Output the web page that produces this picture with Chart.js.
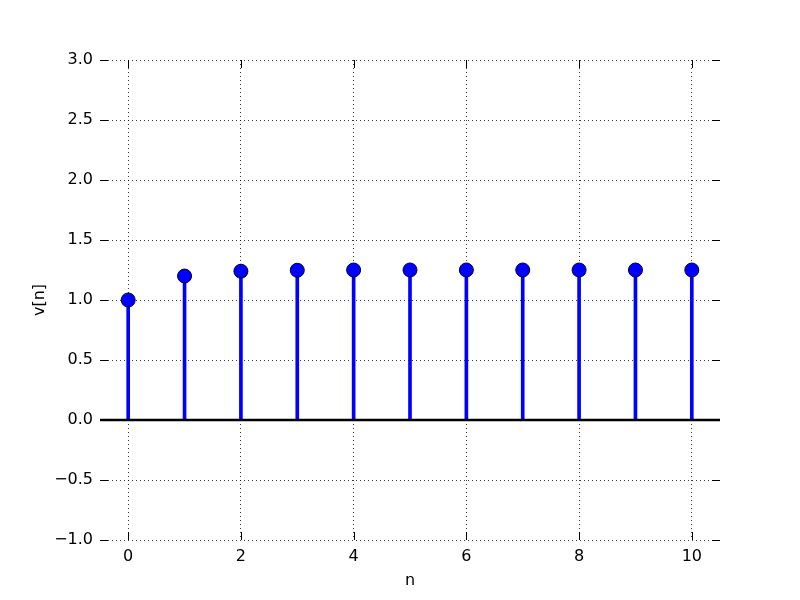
<!DOCTYPE html>
<html>
<head>
<meta charset="utf-8">
<script src="https://cdn.jsdelivr.net/npm/chart.js@4"></script>
<style>
  body { margin: 0; background: #fff; }
  #wrap { width: 800px; height: 600px; }
</style>
</head>
<body>
<div id="wrap"><canvas id="myChart" width="800" height="600"></canvas></div>
<script>
const n = [0, 1, 2, 3, 4, 5, 6, 7, 8, 9, 10]
const v = [1.0, 1.2, 1.24, 1.248, 1.25, 1.25, 1.25, 1.25, 1.25, 1.25, 1.25]
const xTicks = [0, 2, 4, 6, 8, 10]
const yTicks = [-1.0, -0.5, 0.0, 0.5, 1.0, 1.5, 2.0, 2.5, 3.0]

const points = n.map((x, i) => ({ x: x, y: v[i] }))
const ctx = document.querySelector("#myChart").getContext("2d")
const font = { family: "DejaVu Sans", size: 16 }

// matplotlib style inward ticks
const innerTicks = {
  id: "innerTicks",
  afterDraw(chart) {
    const c = chart.ctx
    const a = chart.chartArea
    const xs = chart.scales.x, ys = chart.scales.y
    c.save()
    c.strokeStyle = "#000"
    c.lineWidth = 1
    c.beginPath()
    xTicks.forEach(t => {
      const px = Math.round(xs.getPixelForValue(t)) + 0.5
      c.moveTo(px, a.bottom); c.lineTo(px, a.bottom - 8)
      c.moveTo(px, a.top); c.lineTo(px, a.top + 8)
    })
    yTicks.forEach(t => {
      const py = Math.round(ys.getPixelForValue(t)) + 0.5
      c.moveTo(a.left, py); c.lineTo(a.left + 8, py)
      c.moveTo(a.right, py); c.lineTo(a.right - 8, py)
    })
    c.stroke()
    c.restore()
  }
}

new Chart(ctx, {
  type: "scatter",
  data: {
    datasets: [
      {
        type: "scatter",
        data: points,
        pointRadius: 7,
        pointHoverRadius: 7,
        backgroundColor: "#0000ff",
        borderColor: "#000033",
        borderWidth: 1,
        order: 0
      },
      {
        type: "line",
        data: [{ x: -0.5, y: 0 }, { x: 10.5, y: 0 }],
        borderColor: "#000",
        borderWidth: 2.5,
        pointRadius: 0,
        order: 1
      },
      {
        type: "bar",
        data: points,
        backgroundColor: "#0000ff",
        barThickness: 3,
        order: 2
      }
    ]
  },
  options: {
    responsive: false,
    animation: false,
    layout: { padding: { top: 60, right: 80, left: 0, bottom: 0 } },
    plugins: { legend: { display: false }, tooltip: { enabled: false } },
    scales: {
      x: {
        type: "linear",
        min: -0.5,
        max: 10.5,
        offset: false,
        afterBuildTicks: s => { s.ticks = xTicks.map(t => ({ value: t })) },
        afterFit: s => { s.height = 60 },
        border: { display: false, dash: [1, 3] },
        grid: { color: "rgba(0,0,0,0.75)", lineWidth: 1, drawTicks: false, offset: false },
        ticks: { color: "#000", font: font, padding: 7, maxRotation: 0 },
        title: { display: true, text: "n", color: "#000", font: font, padding: { top: 4, bottom: 10 } }
      },
      y: {
        min: -1,
        max: 3,
        afterBuildTicks: s => { s.ticks = yTicks.map(t => ({ value: t })) },
        afterFit: s => { s.width = 100 },
        border: { display: false, dash: [1, 3] },
        grid: { color: "rgba(0,0,0,0.75)", lineWidth: 1, drawTicks: false },
        ticks: {
          color: "#000",
          font: font,
          padding: 7,
          callback: val => val.toFixed(1).replace("-", "\u2212")
        },
        title: { display: true, text: "v[n]", color: "#000", font: font, padding: { top: 30, bottom: 0 } }
      }
    }
  },
  plugins: [innerTicks]
})
</script>
</body>
</html>
